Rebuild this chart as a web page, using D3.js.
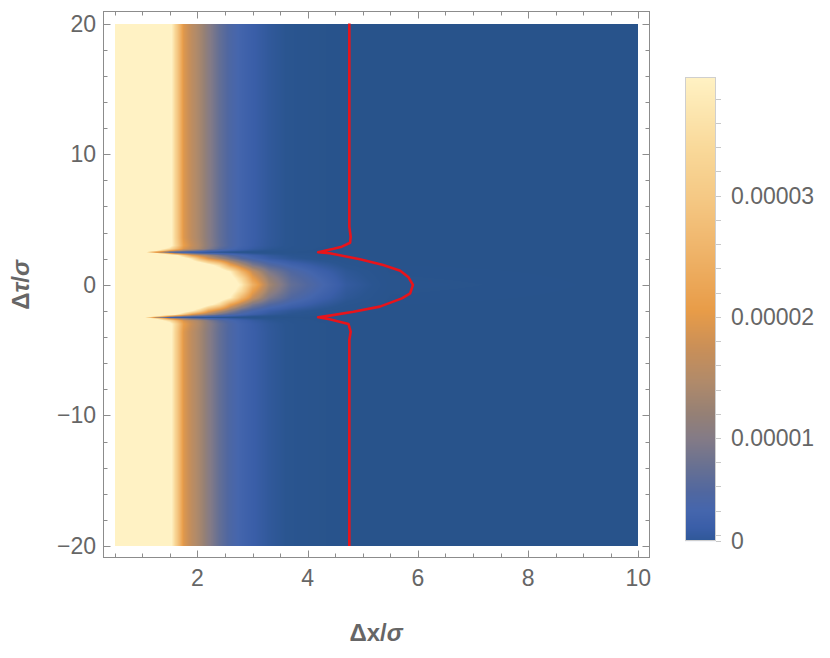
<!DOCTYPE html>
<html><head><meta charset="utf-8">
<script src="https://cdn.jsdelivr.net/npm/d3@7"></script>
<style>body{margin:0;background:#fff} svg{display:block}</style>
</head><body>
<svg id="chart" width="830" height="658"></svg>
<script>
// ---- data (density values in units of 1e-5) ----
const xCols = [0.5, 1.0, 1.25, 1.5, 1.6, 1.75, 1.9, 2.05, 2.2, 2.4, 2.6, 2.8, 3.0, 3.3, 3.7, 4.2, 4.7, 5.5, 10];
const tauRows = [-20, -3.6, -3.0, -2.75, -2.6, -2.5, -2.4, -2.25, -2.0, -1.5, -1.0, -0.5, 0, 0.5, 1.0, 1.5, 2.0, 2.25, 2.4, 2.5, 2.6, 2.75, 3.0, 3.6, 20];
const valueRows = [
  [5,5,5,4.3,3.3,1.95,1.6,1.35,1.05,0.72,0.5,0.36,0.27,0.17,0.08,0.03,0.01,0,0],     // -20
  [5,5,5,4.3,3.3,1.95,1.6,1.35,1.05,0.72,0.5,0.36,0.27,0.17,0.08,0.03,0.01,0,0],     // -3.6
  [5,5,5,4.3,3.4,2.1,1.7,1.4,1.08,0.74,0.5,0.36,0.26,0.16,0.08,0.03,0.01,0,0],       // -3.0
  [5,5,4.6,3.5,2.8,1.9,1.6,1.35,1.0,0.64,0.44,0.31,0.22,0.13,0.06,0.02,0,0,0],       // -2.75
  [5,4.9,3.9,2.0,1.6,1.2,0.9,0.7,0.5,0.36,0.26,0.19,0.13,0.08,0.04,0.01,0,0,0],      // -2.6
  [5,4.6,1.5,0.3,0.22,0.18,0.15,0.13,0.11,0.09,0.07,0.05,0.04,0.03,0.02,0.01,0,0,0], // -2.5
  [5,5,4.1,2.2,1.6,1.1,0.8,0.6,0.45,0.35,0.26,0.19,0.13,0.09,0.05,0.02,0.01,0,0],    // -2.4
  [5,5,5,5,4.4,3.2,2.2,1.7,1.35,0.9,0.6,0.42,0.3,0.18,0.1,0.05,0.02,0,0],            // -2.25
  [5,5,5,5,5,4.6,4.0,3.2,2.2,1.6,1.05,0.65,0.44,0.26,0.15,0.08,0.03,0,0],            // -2.0
  [5,5,5,5,5,5,5,5,4.3,3.5,2.2,1.5,0.95,0.58,0.36,0.2,0.08,0.01,0],                  // -1.5
  [5,5,5,5,5,5,5,5,5,4.6,3.9,2.6,1.7,0.95,0.55,0.32,0.14,0.02,0],                    // -1.0
  [5,5,5,5,5,5,5,5,5,5,4.3,3.4,2.1,1.2,0.65,0.4,0.17,0.03,0],                        // -0.5
  [5,5,5,5,5,5,5,5,5,5,4.6,3.8,2.5,1.35,0.72,0.45,0.2,0.04,0],                       // 0
  [5,5,5,5,5,5,5,5,5,5,4.3,3.4,2.1,1.2,0.65,0.4,0.17,0.03,0],                        // 0.5
  [5,5,5,5,5,5,5,5,5,4.6,3.9,2.6,1.7,0.95,0.55,0.32,0.14,0.02,0],                    // 1.0
  [5,5,5,5,5,5,5,5,4.3,3.5,2.2,1.5,0.95,0.58,0.36,0.2,0.08,0.01,0],                  // 1.5
  [5,5,5,5,5,4.5,3.7,2.6,1.9,1.4,0.95,0.6,0.42,0.25,0.14,0.07,0.03,0,0],             // 2.0
  [5,5,5,5,4.3,3.1,2.1,1.65,1.3,0.88,0.58,0.41,0.29,0.18,0.1,0.05,0.02,0,0],         // 2.25
  [5,5,4.1,2.2,1.6,1.1,0.8,0.6,0.45,0.35,0.26,0.19,0.13,0.09,0.05,0.02,0.01,0,0],    // 2.4
  [5,4.6,1.5,0.3,0.22,0.18,0.15,0.13,0.11,0.09,0.07,0.05,0.04,0.03,0.02,0.01,0,0,0], // 2.5
  [5,4.9,3.9,2.0,1.6,1.2,0.9,0.7,0.5,0.36,0.26,0.19,0.13,0.08,0.04,0.01,0,0,0],      // 2.6
  [5,5,4.6,3.5,2.8,1.9,1.6,1.35,1.0,0.64,0.44,0.31,0.22,0.13,0.06,0.02,0,0,0],       // 2.75
  [5,5,5,4.3,3.4,2.1,1.7,1.4,1.08,0.74,0.5,0.36,0.26,0.16,0.08,0.03,0.01,0,0],       // 3.0
  [5,5,5,4.3,3.3,1.95,1.6,1.35,1.05,0.72,0.5,0.36,0.27,0.17,0.08,0.03,0.01,0,0],     // 3.6
  [5,5,5,4.3,3.3,1.95,1.6,1.35,1.05,0.72,0.5,0.36,0.27,0.17,0.08,0.03,0.01,0,0]      // 20
];
const contourTau = [20, 4.45, 3.68, 3.22, 2.92, 2.76, 2.67, 2.49, 2.41, 1.95, 1.52, 1.08, 0.57, 0, -0.65, -1.04, -1.67, -2.06, -2.36, -2.49, -2.64, -3.0, -3.59, -4.23, -20];
const contourX   = [4.756, 4.756, 4.78, 4.77, 4.62, 4.47, 4.37, 4.19, 4.40, 4.95, 5.37, 5.68, 5.83, 5.91, 5.86, 5.71, 5.31, 4.83, 4.40, 4.19, 4.40, 4.74, 4.78, 4.756, 4.756];
const xTicks = [2, 4, 6, 8, 10];
const yTicks = [-20, -10, 0, 10, 20];
const barRange = [0.15, 3.98];
const barTicks = [0, 1, 2, 3];
const barTickLabels = ["0", "0.00001", "0.00002", "0.00003"];
const colorValues = [0, 0.1, 0.26, 0.4, 0.55, 0.8, 1.0, 1.2, 1.46, 1.74, 2.05, 2.55, 3.0, 3.4, 3.98];
const colorHex = ["#28538b","#2a5590","#3a5ea8","#4566ad","#5067a0","#6c7290","#847b86","#958075","#b08a6a","#c98f58","#e89c48","#efb46a","#f5c985","#f9d99a","#fff2c4"];

// ---- layout ----
const svg = d3.select("#chart");
const x = d3.scaleLinear([0.5, 10], [114.8, 638.3]);
const y = d3.scaleLinear([-20, 20], [546, 23.6]);
const color = d3.scaleLinear(colorValues, colorHex).interpolate(d3.interpolateRgb).clamp(true);
const textCol = "#666666", frameCol = "#8c8c8c";
const font = "'Liberation Sans', Arial, sans-serif";

// ---- density image ----
function valueAt(xv, tv) {
  let i = Math.max(0, Math.min(tauRows.length - 2, d3.bisectRight(tauRows, tv) - 1));
  let j = Math.max(0, Math.min(xCols.length - 2, d3.bisectRight(xCols, xv) - 1));
  const ft = Math.max(0, Math.min(1, (tv - tauRows[i]) / (tauRows[i+1] - tauRows[i])));
  const fx = Math.max(0, Math.min(1, (xv - xCols[j]) / (xCols[j+1] - xCols[j])));
  const a = valueRows[i][j] * (1 - fx) + valueRows[i][j+1] * fx;
  const b = valueRows[i+1][j] * (1 - fx) + valueRows[i+1][j+1] * fx;
  return a * (1 - ft) + b * ft;
}
const px0 = Math.round(x(0.5)), px1 = Math.round(x(10));
const py0 = Math.round(y(20)), py1 = Math.round(y(-20));
const W = px1 - px0, H = py1 - py0;
const canvas = document.createElement("canvas");
canvas.width = W; canvas.height = H;
const ctx = canvas.getContext("2d");
const img = ctx.createImageData(W, H);
for (let r = 0; r < H; r++) {
  const tv = y.invert(py0 + r + 0.5);
  for (let c = 0; c < W; c++) {
    const xv = x.invert(px0 + c + 0.5);
    const col = d3.rgb(color(valueAt(xv, tv)));
    const k = (r * W + c) * 4;
    img.data[k] = col.r; img.data[k+1] = col.g; img.data[k+2] = col.b; img.data[k+3] = 255;
  }
}
ctx.putImageData(img, 0, 0);
svg.append("image").attr("x", px0).attr("y", py0).attr("width", W).attr("height", H)
  .attr("href", canvas.toDataURL());

// ---- contour ----
const pts = contourX.map((v, i) => [v, contourTau[i]]);
svg.append("path").datum(pts)
  .attr("d", d3.line().x(d => x(d[0])).y(d => y(d[1])))
  .attr("fill", "none").attr("stroke", "#e8141b").attr("stroke-width", 2.6).attr("stroke-linejoin", "round");

// ---- frame & ticks ----
const fL = 103.5, fR = 649.5, fT = 11.5, fB = 557.5;
svg.append("rect").attr("x", fL).attr("y", fT).attr("width", fR - fL).attr("height", fB - fT)
  .attr("fill", "none").attr("stroke", frameCol).attr("stroke-width", 1);
const tk = svg.append("g").attr("stroke", frameCol).attr("stroke-width", 1);
d3.range(0.5, 10.01, 0.5).forEach(v => {
  const major = xTicks.includes(v);
  const len = major ? 7 : 4;
  const xp = Math.round(x(v)) + 0.5;
  tk.append("line").attr("x1", xp).attr("x2", xp).attr("y1", fB).attr("y2", fB - len);
  tk.append("line").attr("x1", xp).attr("x2", xp).attr("y1", fT).attr("y2", fT + len);
});
d3.range(-20, 20.01, 2).forEach(v => {
  const major = yTicks.includes(v);
  const len = major ? 7 : 4;
  const yp = Math.round(y(v)) + 0.5;
  tk.append("line").attr("y1", yp).attr("y2", yp).attr("x1", fL).attr("x2", fL + len);
  tk.append("line").attr("y1", yp).attr("y2", yp).attr("x1", fR).attr("x2", fR - len);
});
const fmt = v => (v < 0 ? "\u2212" + Math.abs(v) : String(v));
svg.append("g").selectAll("text").data(xTicks).join("text")
  .attr("x", d => x(d)).attr("y", 586).attr("text-anchor", "middle")
  .attr("font-family", font).attr("font-size", 23).attr("fill", textCol).text(fmt);
svg.append("g").selectAll("text").data(yTicks).join("text")
  .attr("x", 96).attr("y", d => y(d) + 8).attr("text-anchor", "end")
  .attr("font-family", font).attr("font-size", 23).attr("fill", textCol).text(fmt);

// axis titles
const xt = svg.append("text").attr("x", 376).attr("y", 641).attr("text-anchor", "middle")
  .attr("font-family", font).attr("font-size", 24).attr("font-weight", "bold").attr("fill", textCol);
xt.append("tspan").text("\u0394x/");
xt.append("tspan").attr("font-style", "italic").text("\u03c3");
const yt = svg.append("text").attr("transform", "translate(29,285) rotate(-90)").attr("text-anchor", "middle")
  .attr("font-family", font).attr("font-size", 24).attr("font-weight", "bold").attr("fill", textCol);
yt.append("tspan").text("\u0394");
yt.append("tspan").attr("font-style", "italic").text("\u03c4");
yt.append("tspan").text("/");
yt.append("tspan").attr("font-style", "italic").text("\u03c3");

// ---- colour bar ----
const bL = 685, bR = 716, bTop = 77, bBot = 541;
const bar = d3.scaleLinear(barRange, [bBot, bTop]).clamp(true);
const bg = svg.append("g");
for (let p = bTop; p < bBot; p++) {
  bg.append("rect").attr("x", bL).attr("y", p).attr("width", bR - bL).attr("height", 1.05)
    .attr("fill", color(bar.invert(p + 0.5)));
}
svg.append("rect").attr("x", bL + 0.5).attr("y", bTop + 0.5).attr("width", bR - bL - 1).attr("height", bBot - bTop - 1)
  .attr("fill", "none").attr("stroke", "#cfcfcf").attr("stroke-width", 1);
[0].concat(d3.range(0.2, 3.81, 0.2)).forEach(v => {
  const yp = Math.round(bar(v)) + 0.5;
  svg.append("line").attr("x1", bR).attr("x2", bR + 5).attr("y1", yp).attr("y2", yp)
    .attr("stroke", "#c8c8c8").attr("stroke-width", 1);
});
svg.append("g").selectAll("text").data(barTicks).join("text")
  .attr("x", 731).attr("y", d => bar(d) + 8)
  .attr("font-family", font).attr("font-size", 23).attr("fill", textCol)
  .text((d, i) => barTickLabels[i]);
</script>
</body></html>
